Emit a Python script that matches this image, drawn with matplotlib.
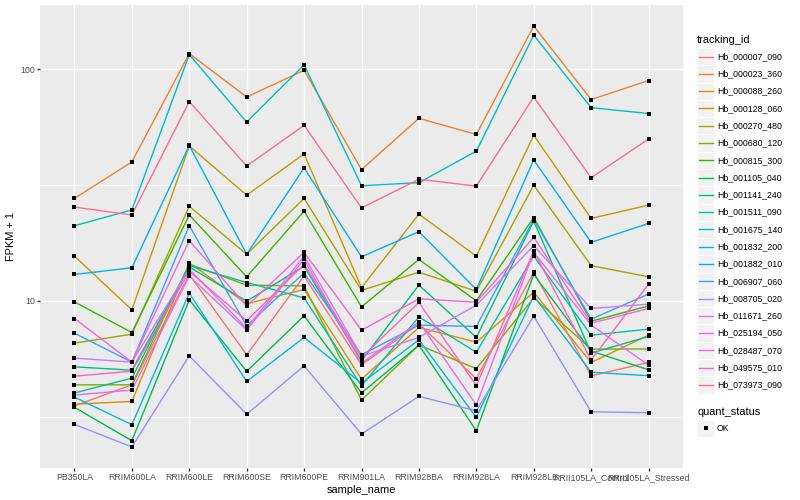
import numpy as np
import matplotlib
matplotlib.use("Agg")
import matplotlib.pyplot as plt
from matplotlib.patches import Rectangle
from matplotlib.lines import Line2D
from matplotlib.ticker import NullFormatter

plt.rcParams['font.family'] = ['Liberation Sans', 'DejaVu Sans']

samples = ["PB350LA", "RRIM600LA", "RRIM600LE", "RRIM600SE", "RRIM600PE",
           "RRIM901LA", "RRIM928BA", "RRIM928LA", "RRIM928LE",
           "RRII105LA_Control", "RRII105LA_Stressed"]

tracking_ids = ["Hb_000007_090", "Hb_000023_360", "Hb_000088_260", "Hb_000128_060",
                "Hb_000270_480", "Hb_000680_120", "Hb_000815_300", "Hb_001105_040",
                "Hb_001141_240", "Hb_001511_090", "Hb_001675_140", "Hb_001832_200",
                "Hb_001882_010", "Hb_006907_060", "Hb_008705_020", "Hb_011671_260",
                "Hb_025194_050", "Hb_028487_070", "Hb_049575_010", "Hb_073973_090"]

# ggplot default hue palette, 20 levels
colors = ["#F8766D", "#EA8331", "#D89000", "#C09B00", "#A3A500", "#7CAE00",
          "#39B600", "#00BB4E", "#00BF7D", "#00C1A3", "#00BFC4", "#00BAE0",
          "#00B0F6", "#35A2FF", "#9590FF", "#C77CFF", "#E76BF3", "#FA62DB",
          "#FF62BC", "#FF6C91"]

# FPKM + 1 per sample
hb_000007_090 = [3.52, 4.34, 13.0, 5.85, 12.8, 5.29, 7.97, 4.61, 13.3, 4.75, 5.42]
hb_000023_360 = [27.7, 39.8, 116.9, 75.9, 99.0, 36.9, 61.4, 52.3, 153.7, 74.0, 89.4]
hb_000088_260 = [3.58, 3.68, 14.6, 9.72, 11.2, 4.59, 7.68, 6.63, 10.9, 5.42, 7.11]
hb_000128_060 = [15.6, 9.15, 46.7, 28.6, 43.1, 11.4, 23.7, 15.6, 51.9, 22.7, 25.9]
hb_000270_480 = [6.57, 7.18, 25.6, 15.9, 27.7, 11.1, 13.3, 11.0, 31.6, 14.2, 12.7]
hb_000680_120 = [4.34, 4.34, 14.4, 11.7, 11.6, 3.73, 6.44, 5.10, 10.3, 6.19, 6.20]
hb_000815_300 = [9.90, 7.30, 23.5, 12.7, 24.4, 9.42, 15.1, 10.0, 22.9, 8.17, 9.51]
hb_001105_040 = [3.47, 2.49, 10.1, 4.96, 8.62, 4.00, 6.44, 2.75, 13.0, 6.07, 5.04]
hb_001141_240 = [5.19, 5.02, 14.0, 9.97, 14.1, 5.51, 11.7, 6.95, 22.1, 5.95, 7.02]
hb_001511_090 = [4.00, 4.64, 14.2, 12.0, 10.3, 4.30, 8.53, 6.00, 15.6, 7.11, 7.55]
hb_001675_140 = [21.1, 24.7, 115.7, 59.2, 104.4, 31.4, 32.4, 44.3, 140.6, 68.3, 64.4]
hb_001832_200 = [3.84, 2.92, 10.8, 4.49, 6.95, 4.41, 6.79, 3.14, 10.5, 4.92, 4.75]
hb_001882_010 = [13.0, 13.9, 46.9, 15.9, 37.5, 15.5, 19.9, 11.2, 40.6, 17.9, 21.6]
hb_006907_060 = [7.25, 5.44, 21.1, 7.80, 13.2, 5.85, 7.86, 7.75, 22.5, 8.34, 10.7]
hb_008705_020 = [2.93, 2.34, 5.79, 3.24, 5.24, 2.66, 3.87, 3.35, 8.59, 3.32, 3.29]
hb_011671_260 = [5.66, 5.44, 13.7, 7.62, 15.6, 5.77, 6.95, 9.58, 17.3, 9.27, 9.68]
hb_025194_050 = [3.92, 4.12, 12.8, 7.49, 15.1, 5.38, 8.12, 3.55, 16.2, 7.86, 5.28]
hb_028487_070 = [8.39, 5.44, 18.2, 9.49, 16.2, 7.47, 10.2, 9.87, 18.8, 8.01, 9.27]
hb_049575_010 = [4.73, 4.97, 13.4, 8.20, 14.4, 5.70, 9.84, 4.31, 16.4, 5.55, 11.8]
hb_073973_090 = [25.4, 23.5, 72.5, 38.2, 57.3, 25.2, 33.5, 31.3, 75.9, 34.0, 50.0]

series = [hb_000007_090, hb_000023_360, hb_000088_260, hb_000128_060, hb_000270_480,
          hb_000680_120, hb_000815_300, hb_001105_040, hb_001141_240, hb_001511_090,
          hb_001675_140, hb_001832_200, hb_001882_010, hb_006907_060, hb_008705_020,
          hb_011671_260, hb_025194_050, hb_028487_070, hb_049575_010, hb_073973_090]

W, H = 800, 500
fig = plt.figure(figsize=(8, 5), dpi=100)
ax = fig.add_axes([40 / W, 32 / H, 643 / W, 463 / H])
ax.set_facecolor("#EBEBEB")

x = np.arange(1, len(samples) + 1)
for vals, col in zip(series, colors):
    ax.plot(x, vals, color=col, lw=1.0, zorder=2)
for vals in series:
    ax.plot(x, vals, "s", color="black", ms=3.0, mew=0, zorder=3)

ax.set_yscale("log")
allv = np.log10(np.concatenate([np.array(s) for s in series]))
span = allv.max() - allv.min()
ax.set_ylim(10 ** (allv.min() - 0.05 * span), 10 ** (allv.max() + 0.05 * span))
ax.set_xlim(0.4, len(samples) + 0.6)

ax.set_yticks([10, 100])
ax.set_yticklabels(["10", "100"])
ax.set_yticks([10 ** 0.5, 10 ** 1.5], minor=True)
ax.yaxis.set_minor_formatter(NullFormatter())
ax.set_xticks(x)
ax.set_xticklabels(samples)

ax.grid(axis="x", which="major", color="white", lw=1.0)
ax.grid(axis="y", which="major", color="white", lw=1.0)
ax.grid(axis="y", which="minor", color="white", lw=0.5)
ax.set_axisbelow(True)
for s in ax.spines.values():
    s.set_visible(False)
ax.tick_params(which="major", length=2, width=1.0, color="#333333",
               labelsize=6.34, labelcolor="#4D4D4D", pad=1.6)
ax.tick_params(which="minor", length=0)

ax.set_xlabel("sample_name", fontsize=7.92, labelpad=2)
ax.set_ylabel("FPKM + 1", fontsize=7.92, labelpad=3)

# legend drawn by hand to get ggplot-like keys
def fx(px):
    return px / W

def fy(py):
    return 1 - py / H

key = 17.28
lx = 697
fig.text(fx(lx), fy(40), "tracking_id", fontsize=7.92, ha="left", va="center")
top = 48
for i, (name, col) in enumerate(zip(tracking_ids, colors)):
    t = top + i * key
    fig.patches.append(Rectangle((fx(lx), fy(t + key)), key / W, key / H,
                                 facecolor="#F2F2F2", edgecolor="white", lw=0.7,
                                 transform=fig.transFigure, figure=fig))
    fig.lines.append(Line2D([fx(lx + 1.7), fx(lx + key - 1.7)], [fy(t + key / 2)] * 2,
                            color=col, lw=1.0, transform=fig.transFigure, figure=fig))
    fig.text(fx(lx + key + 2.5), fy(t + key / 2), name, fontsize=6.34,
             ha="left", va="center")

fig.text(fx(lx), fy(412), "quant_status", fontsize=7.92, ha="left", va="center")
t = 419.7
fig.patches.append(Rectangle((fx(lx), fy(t + key)), key / W, key / H,
                             facecolor="#F2F2F2", edgecolor="white", lw=0.7,
                             transform=fig.transFigure, figure=fig))
fig.lines.append(Line2D([fx(lx + key / 2)], [fy(t + key / 2)], marker="s", ms=3.0,
                        color="black", mew=0, transform=fig.transFigure, figure=fig))
fig.text(fx(lx + key + 2.5), fy(t + key / 2), "OK", fontsize=6.34, ha="left", va="center")

fig.savefig("out.png", dpi=100)
